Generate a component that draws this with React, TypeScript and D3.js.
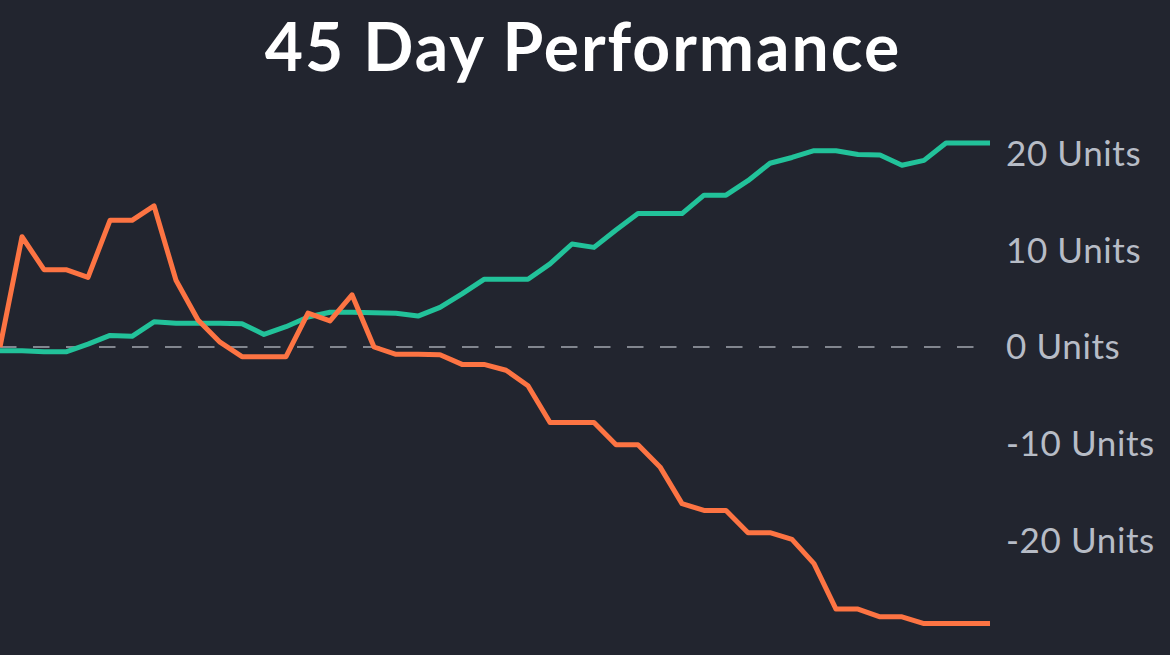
import React from "react";
import * as d3 from "d3";

const days: number[] = d3.range(0, 46);
const orangeValues: number[] = [
  0, 11.4, 8.0, 8.0, 7.2, 13.1, 13.1, 14.6, 6.9, 2.8,
  0.5, -1.0, -1.0, -1.0, 3.5, 2.7, 5.4, 0.0, -0.75, -0.75,
  -0.8, -1.8, -1.8, -2.4, -4.0, -7.8, -7.8, -7.8, -10.1, -10.1,
  -12.4, -16.2, -16.9, -16.9, -19.2, -19.2, -19.9, -22.4, -27.1, -27.1,
  -27.9, -27.9, -28.6, -28.6, -28.6, -28.6,
];
const greenValues: number[] = [
  -0.4, -0.4, -0.5, -0.5, 0.3, 1.2, 1.1, 2.6, 2.45, 2.45,
  2.45, 2.4, 1.3, 2.1, 3.1, 3.6, 3.6, 3.55, 3.5, 3.2,
  4.1, 5.5, 7.0, 7.0, 7.0, 8.6, 10.65, 10.3, 12.1, 13.8,
  13.8, 13.8, 15.7, 15.7, 17.2, 19.0, 19.6, 20.3, 20.3, 19.9,
  19.85, 18.8, 19.3, 21.1, 21.1, 21.1,
];
const tickValues: number[] = [20, 10, 0, -10, -20];
const tickLabels: string[] = ["20 Units", "10 Units", "0 Units", "-10 Units", "-20 Units"];
const title = "45 Day Performance";

const W = 1170;
const H = 655;

export default function App() {
  const x = d3.scaleLinear().domain([0, 45]).range([0, 990]);
  const y = d3.scaleLinear().domain([-20, 20]).range([540.4, 153.6]);
  const line = d3
    .line<number>()
    .x((_, i) => x(days[i]))
    .y((d) => y(d));

  return (
    <svg
      width={W}
      height={H}
      style={{ position: "absolute", left: 0, top: 0, display: "block" }}
    >
      <rect x={0} y={0} width={W} height={H} fill="#22252f" />
      <text
        x={583}
        y={71}
        textAnchor="middle"
        fill="#ffffff"
        fontFamily="Lato, 'Open Sans', sans-serif"
        fontWeight={700}
        fontSize={66}
        letterSpacing={2}
      >
        {title}
      </text>
      <line
        x1={0}
        x2={978}
        y1={y(0)}
        y2={y(0)}
        stroke="#a3a7b0"
        strokeWidth={1.6}
        strokeDasharray="16.5 16.5"
      />
      {tickValues.map((v, i) => (
        <text
          key={v}
          x={1006}
          y={y(v)}
          dy="0.35em"
          fill="#b7bcc6"
          fontFamily="Lato, 'Open Sans', sans-serif"
          fontSize={35}
          letterSpacing={0.6}
        >
          {tickLabels[i]}
        </text>
      ))}
      <path
        d={line(greenValues) || ""}
        fill="none"
        stroke="#22c29a"
        strokeWidth={5}
        strokeLinejoin="round"
      />
      <path
        d={line(orangeValues) || ""}
        fill="none"
        stroke="#fd7443"
        strokeWidth={5}
        strokeLinejoin="round"
      />
    </svg>
  );
}
